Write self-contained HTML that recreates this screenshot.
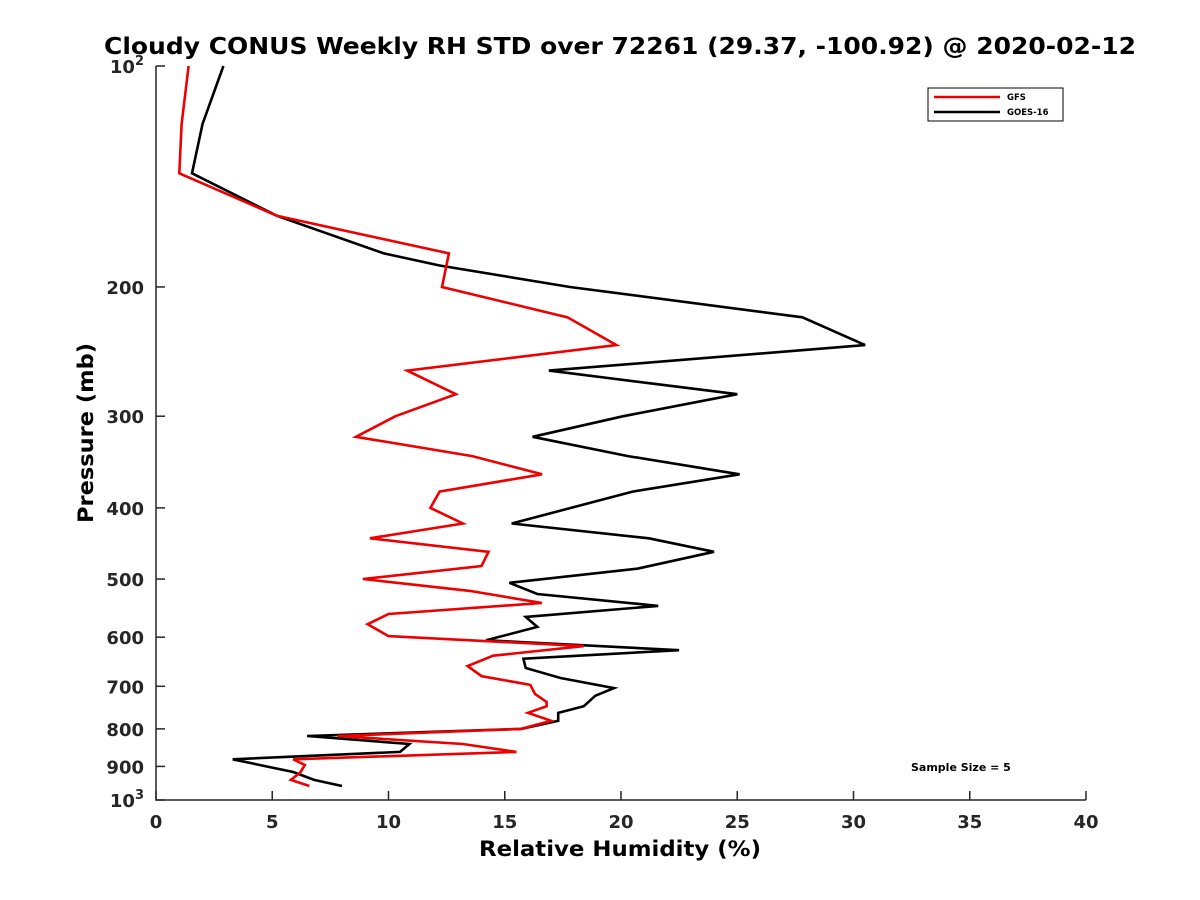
<!DOCTYPE html>
<html><head><meta charset="utf-8"><style>
body{margin:0;background:#fff;}
svg{display:block;font-family:"DejaVu Sans","Liberation Sans",sans-serif;font-weight:bold;}
</style></head><body>
<svg id="chart" width="1200" height="900">
<text x="620" y="54" text-anchor="middle" font-size="23" textLength="1032" lengthAdjust="spacingAndGlyphs">Cloudy CONUS Weekly RH STD over 72261 (29.37, -100.92) @ 2020-02-12</text>
<g id="axes"></g>
<g id="series"></g>
<text x="620" y="856" text-anchor="middle" font-size="21" textLength="282" lengthAdjust="spacingAndGlyphs">Relative Humidity (%)</text>
<text transform="translate(93,433) rotate(-90)" text-anchor="middle" font-size="21" textLength="180" lengthAdjust="spacingAndGlyphs">Pressure (mb)</text>
<g>
<rect x="928" y="88" width="135" height="33" fill="#fff" stroke="#000" stroke-width="1"/>
<line x1="934" y1="97" x2="1000" y2="97" stroke="#e00" stroke-width="2.5"/>
<text x="1007" y="100" font-size="8.5">GFS</text>
<line x1="934" y1="112" x2="1000" y2="112" stroke="#000" stroke-width="2.5"/>
<text x="1007" y="115" font-size="8.5">GOES-16</text>
</g>
<text x="911" y="771" font-size="11">Sample Size = 5</text>
</svg>
<script>
const xTicks=[0,5,10,15,20,25,30,35,40];
const yTicks=[100,200,300,400,500,600,700,800,900,1000];
const yTickLabels=["10^2","200","300","400","500","600","700","800","900","10^3"];
const gfsP=[100,120,140,160,180,200,220,240,260,280,300,320,340,360,380,400,420,440,459,480,500,519,539,558,576,598,617,636,657,678,697,717,735,745,761,780,800,818,839,860,880,896,918,939,957];
const gfsRH=[1.4,1.1,1.0,5.2,12.6,12.3,17.7,19.8,10.8,12.9,10.3,8.6,13.6,16.6,12.2,11.8,13.2,9.2,14.3,14.0,8.9,13.5,16.6,10.0,9.1,10.0,18.4,14.5,13.4,14.0,16.1,16.3,16.8,16.8,16.0,17.0,15.7,7.8,13.2,15.5,5.9,6.4,6.2,5.8,6.6];
const goesP=[100,120,140,160,180,187,200,220,240,260,280,300,320,340,360,380,420,440,459,484,506,524,544,563,581,606,625,642,661,682,704,721,745,761,780,800,818,839,860,880,916,939,957];
const goesRH=[2.9,2.0,1.55,5.2,9.8,12.2,17.8,27.8,30.5,16.9,25.0,20.1,16.2,20.3,25.1,20.5,15.3,21.2,24.0,20.7,15.2,16.4,21.6,15.9,16.4,14.2,22.5,15.8,15.9,17.4,19.7,18.9,18.4,17.3,17.3,15.7,6.5,10.9,10.5,3.3,5.9,6.8,8.0];
const X0=156,X1=1086,Y0=66,Y1=800;
function xs(v){return X0+(v-0)/(40-0)*(X1-X0);}
function ys(p){return Y0+(Math.log10(p)-2)*(Y1-Y0);}
const NS="http://www.w3.org/2000/svg";
function mk(t,a,parent){const e=document.createElementNS(NS,t);for(const k in a)e.setAttribute(k,a[k]);parent.appendChild(e);return e;}
const axes=document.getElementById('axes');
let ax=mk('path',{d:`M${X0},${Y0}V${Y1}H${X1}`,fill:'none',stroke:'#262626','stroke-width':1.5},axes);


xTicks.forEach(v=>{
 const x=xs(v);
 const t=mk('line',{x1:x,y1:Y1,x2:x,y2:Y1-9,stroke:'#262626','stroke-width':1.5},axes);
 
 
 const l=mk('text',{x:x,y:Y1+28,'text-anchor':'middle','font-size':18,fill:'#262626'},axes);
 l.textContent=v;
 
 
});
yTicks.forEach((p,i)=>{
 const y=ys(p);
 const t=mk('line',{x1:X0,y1:y,x2:X0+9,y2:y,stroke:'#262626','stroke-width':1.5},axes);
 
 
 const lab=yTickLabels[i];
 const l=mk('text',{x:X0-12,y:y+7,'text-anchor':'end','font-size':18,fill:'#262626'},axes);
 if(lab.includes('^')){
  const [b,e]=lab.split('^');
  const t1=mk('tspan',{},l);t1.textContent=b;
  const t2=mk('tspan',{dy:-8,'font-size':13},l);t2.textContent=e;
 } else l.textContent=lab;
 
 
});
const ser=document.getElementById('series');
function line(P,V,color,name){
 const d=P.map((p,i)=>(i?'L':'M')+xs(V[i]).toFixed(1)+','+ys(p).toFixed(1)).join('');
 const e=mk('path',{d:d,fill:'none',stroke:color,'stroke-width':2.6,'stroke-linejoin':'miter'},ser);
 
 
}
line(goesP,goesRH,'#000','goes16-line');
line(gfsP,gfsRH,'#e00','gfs-line');
</script>
</body></html>
